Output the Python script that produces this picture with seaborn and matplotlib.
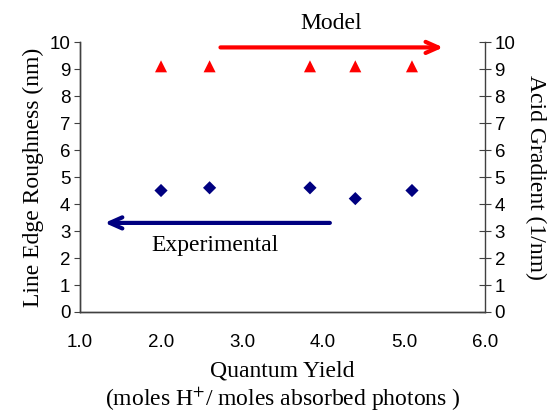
import pandas as pd
import matplotlib
matplotlib.use("Agg")
import matplotlib.pyplot as plt
import seaborn as sns

# quantum yield values (x) shared by both series
quantum_yield = [2.0, 2.6, 3.84, 4.4, 5.1]
# experimental line edge roughness (nm), left axis
roughness = [4.5, 4.6, 4.6, 4.2, 4.5]
# model acid gradient (1/nm), right axis
acid_gradient = [9.1, 9.1, 9.1, 9.1, 9.1]

x_ticks = [1.0, 2.0, 3.0, 4.0, 5.0, 6.0]
y_ticks = list(range(0, 11))

sns.set_style("white")
plt.rcParams['font.family'] = ['Liberation Sans', 'DejaVu Sans']
plt.rcParams['mathtext.fontset'] = 'stix'
plt.rcParams['text.color'] = 'black'
plt.rcParams['axes.labelcolor'] = 'black'
plt.rcParams['xtick.labelcolor'] = 'black'
plt.rcParams['ytick.labelcolor'] = 'black'

df_exp = pd.DataFrame({'qy': quantum_yield, 'ler': roughness})
df_mod = pd.DataFrame({'qy': quantum_yield, 'grad': acid_gradient})

fig = plt.figure(figsize=(5.56, 4.16), dpi=100)
ax = fig.add_axes([0.144, 0.25, 0.728, 0.649])
ax2 = ax.twinx()

sns.scatterplot(data=df_exp, x='qy', y='ler', ax=ax, marker='D', s=45,
                color='#000080', edgecolor='none', legend=False)
sns.scatterplot(data=df_mod, x='qy', y='grad', ax=ax2, marker='^', s=75,
                color='#ff0000', edgecolor='none', legend=False)

for a in (ax, ax2):
    a.set_xlim(1.0, 6.0)
    a.set_ylim(0, 10)
    a.set_yticks(y_ticks)
    for s in a.spines.values():
        s.set_color('#404040')
        s.set_linewidth(1.0)
    a.spines['top'].set_visible(False)

ax.set_xticks(x_ticks)
ax.set_xticklabels([f"{v:.1f}" for v in x_ticks])
ax.tick_params(axis='x', direction='in', length=4, pad=16, labelsize=13.5, color='#404040')
ax.tick_params(axis='y', direction='out', length=4, pad=3, labelsize=13.5, color='#404040', left=True)
ax2.tick_params(axis='y', direction='inout', length=8, pad=3, labelsize=13.5, color='#404040', right=True)
ax.spines['right'].set_visible(False)

serif = ['Liberation Serif', 'DejaVu Serif']
ax.set_xlabel("Quantum Yield\n(moles H$^{+}$/ moles absorbed photons )",
              family=serif, fontsize=17, labelpad=7, linespacing=1.2)
ax.set_ylabel("Line Edge Roughness (nm)", family=serif, fontsize=17, labelpad=4)
ax2.set_ylabel("Acid Gradient (1/nm)", family=serif, fontsize=17,
               rotation=270, labelpad=22)

# arrows and labels
ax.annotate('', xy=(5.52, 9.8), xytext=(2.7, 9.8), annotation_clip=False,
            arrowprops=dict(arrowstyle='->,head_length=0.9,head_width=0.4', color='#ff0000', lw=3))
ax.text(4.1, 10.7, "Model", family=serif, fontsize=17, ha='center', va='center')
ax.annotate('', xy=(1.27, 3.3), xytext=(4.12, 3.3), annotation_clip=False,
            arrowprops=dict(arrowstyle='->,head_length=0.9,head_width=0.4', color='#000080', lw=3))
ax.text(2.67, 2.45, "Experimental", family=serif, fontsize=17, ha='center', va='center')

fig.savefig('out.png', dpi=100)
